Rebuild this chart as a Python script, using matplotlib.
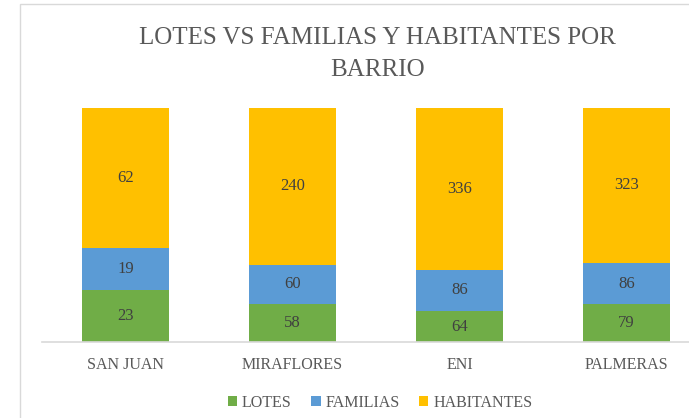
import matplotlib.pyplot as plt
import matplotlib.patches as mpatches
import numpy as np

barrios = ['SAN JUAN', 'MIRAFLORES', 'ENI', 'PALMERAS']
lotes = [23, 58, 64, 79]
familias = [19, 60, 86, 86]
habitantes = [62, 240, 336, 323]

series = [('LOTES', lotes, '#70AD47'),
          ('FAMILIAS', familias, '#5B9BD5'),
          ('HABITANTES', habitantes, '#FFC000')]

plt.rcParams['font.family'] = ['Liberation Serif', 'DejaVu Serif']

W, H = 689, 418
fig = plt.figure(figsize=(W / 100, H / 100), dpi=100)

# chart frame (cut off on right/bottom like the screenshot)
fig.patches.append(mpatches.Rectangle((20 / W, -0.1), 1.2, 1 - 4 / H + 0.1,
                                      transform=fig.transFigure, fill=False,
                                      edgecolor='#D9D9D9', linewidth=1))

ax = fig.add_axes([42 / W, 1 - 342 / H, 668 / W, 234 / H])

x = np.arange(len(barrios))
totals = np.array(lotes) + np.array(familias) + np.array(habitantes)
bottom = np.zeros(len(barrios))
handles = []
for name, vals, color in series:
    frac = np.array(vals) / totals
    bars = ax.bar(x, frac, 0.515, bottom=bottom, color=color, label=name)
    for xi, b, f, v in zip(x, bottom, frac, vals):
        ax.text(xi, b + f / 2, str(v), ha='center', va='center',
                fontsize=12, color='#404040')
    bottom += frac
    handles.append(bars)

ax.set_xlim(-0.5, len(barrios) - 0.5)
ax.set_ylim(0, 1)
ax.set_yticks([])
ax.set_xticks(x)
ax.set_xticklabels(barrios, fontsize=11.5, color='#595959')
ax.tick_params(axis='x', length=0, pad=11)
for s in ['top', 'left', 'right']:
    ax.spines[s].set_visible(False)
ax.spines['bottom'].set_color('#D9D9D9')
ax.spines['bottom'].set_linewidth(1.2)

fig.text(377 / W, 1 - 38 / H, 'LOTES VS FAMILIAS Y HABITANTES POR', ha='center',
         va='center', fontsize=18, color='#595959')
fig.text(378 / W, 1 - 70 / H, 'BARRIO', ha='center', va='center',
         fontsize=18, color='#595959')

fig.legend(handles=handles, loc='center', bbox_to_anchor=(380 / W, 1 - 403 / H),
           ncol=3, frameon=False, fontsize=11.5, labelcolor='#595959',
           handlelength=0.6, handleheight=0.6, handletextpad=0.3,
           columnspacing=1.2)

fig.savefig('out.png', dpi=100)
